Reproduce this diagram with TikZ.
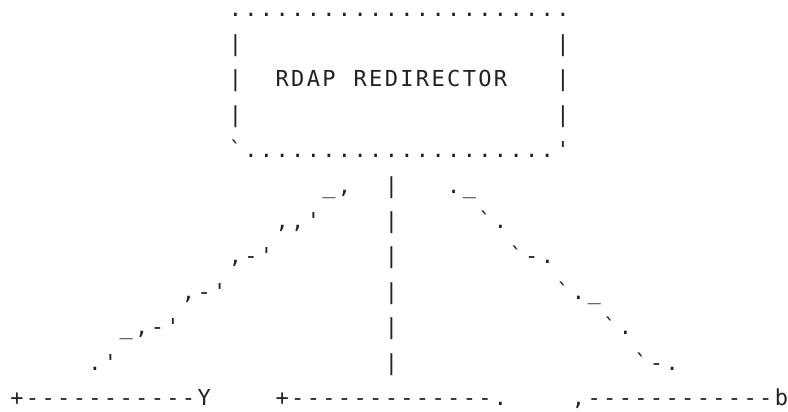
\documentclass[tikz,border=0pt]{standalone}
\usepackage{fontspec}
\newfontfamily\asc{DejaVu Sans Mono}
\definecolor{ink}{RGB}{34,34,34}
\makeatletter
\newcommand\cells[1]{\@tfor\cc:=#1\do{\makebox[11.7pt]{\cc}}}
\makeatother
\tikzset{run/.style={anchor=base west, inner sep=0pt, outer sep=0pt,
  font=\asc\fontsize{16.5pt}{16.5pt}\selectfont, text=ink}}
% name, column, row, characters
\newcommand\run[4]{\node[run] (#1) at ({9.2+15.6*#2},{-(16+35.4*#3)}) {\cells{#4}};}
\begin{document}
\begin{tikzpicture}[x=0.75pt,y=0.75pt]
\useasboundingbox (0,0) rectangle (788,-411);
% redirector box
\run{boxtop}{14}{0}{......................}
\run{boxl1}{14}{1}{|}
\run{boxr1}{35}{1}{|}
\run{boxl2}{14}{2}{|}
\run{lblA}{17}{2}{RDAP}
\run{lblB}{22}{2}{REDIRECTOR}
\run{boxr2}{35}{2}{|}
\run{boxl3}{14}{3}{|}
\run{boxr3}{35}{3}{|}
\run{boxbot}{14}{4}{`....................'}
% left branch
\run{la}{20}{5}{{\_},}
\run{lb}{17}{6}{,,'}
\run{lc}{14}{7}{,-'}
\run{ld}{11}{8}{,-'}
\run{le}{7}{9}{{\_},-'}
\run{lf}{5}{10}{.'}
% middle branch
\run{m5}{24}{5}{|}
\run{m6}{24}{6}{|}
\run{m7}{24}{7}{|}
\run{m8}{24}{8}{|}
\run{m9}{24}{9}{|}
\run{m10}{24}{10}{|}
% right branch
\run{ra}{28}{5}{.{\_}}
\run{rb}{30}{6}{`.}
\run{rc}{32}{7}{`-.}
\run{rd}{35}{8}{`.{\_}}
\run{re}{38}{9}{`.}
\run{rf}{40}{10}{`-.}
% bottom line
\run{bY}{0}{11}{+-----------Y}
\run{bmid}{17}{11}{+-------------.}
\run{bb}{36}{11}{,------------b}
\end{tikzpicture}
\end{document}
